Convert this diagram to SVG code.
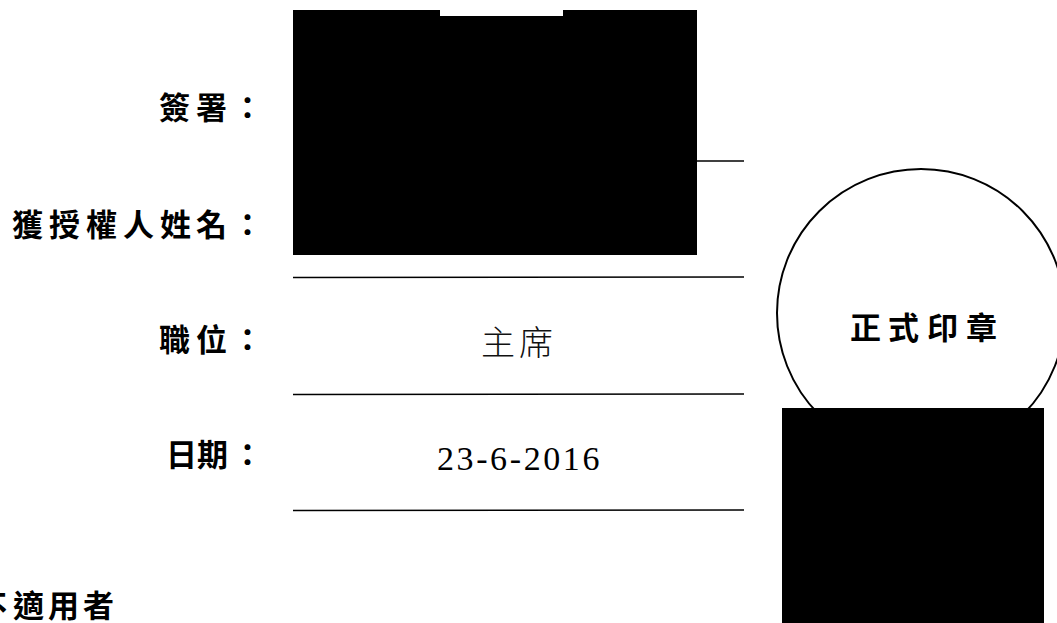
<svg xmlns="http://www.w3.org/2000/svg" width="1057" height="623" viewBox="0 0 1057 623">
<style>
.l{font-family:"Noto Sans CJK TC","Noto Sans CJK SC",sans-serif;font-weight:700;font-size:31px;fill:#000}
.v{font-family:"Noto Sans CJK TC",sans-serif;font-weight:300;font-size:34px;fill:#111}
.d{font-family:"Liberation Serif",serif;font-size:34px;letter-spacing:2.6px;fill:#000}
.r{stroke:#000;stroke-width:1.6;fill:none}
.b{fill:#000}
</style>
<rect width="1057" height="623" fill="#fff"/>
<g id="connectors">
<line class="r" x1="697" y1="161" x2="744" y2="161"/>
<line class="r" x1="293" y1="277.500" x2="744" y2="277"/>
<line class="r" x1="293" y1="394.500" x2="744" y2="394"/>
<line class="r" x1="293" y1="510.500" x2="744" y2="510"/>
</g>
<g id="signature-block"><path class="b" d="M293 10H440V16H563V10H697V255H293Z"/></g>
<g id="label-signature"><text class="l" x="159 196 232" y="119">簽署：</text></g>
<g id="label-name"><text class="l" x="12 49 86 123 160 196 232" y="236">獲授權人姓名：</text></g>
<g id="label-title"><text class="l" x="159 196 232" y="351">職位：</text></g>
<g id="label-date"><text class="l" x="166 197 232" y="466">日期：</text></g>
<g id="value-title"><text class="v" x="481 519" y="355">主席</text></g>
<g id="value-date"><text class="d" x="437" y="470">23-6-2016</text></g>
<g id="not-applicable"><text class="l" x="-24 13 48 83" y="617">不適用者</text></g>
<g id="seal">
<ellipse cx="921" cy="313" rx="144" ry="144" fill="#fff" stroke="#000" stroke-width="2"/>
<text class="l" x="850 888 927 966" y="339">正式印章</text>
</g>
<g id="seal-block"><rect class="b" x="782" y="408" width="262" height="215"/></g>
</svg>
